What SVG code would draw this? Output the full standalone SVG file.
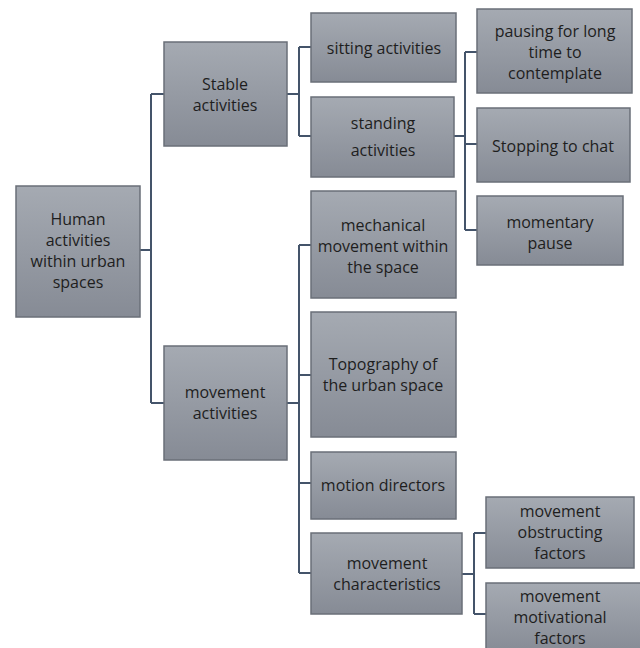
<svg xmlns="http://www.w3.org/2000/svg" width="640" height="648" viewBox="0 0 640 648">
<defs>
<linearGradient id="g" x1="0" y1="0" x2="0" y2="1">
<stop offset="0" stop-color="#a5aab2"/>
<stop offset="1" stop-color="#868b95"/>
</linearGradient>
<style>
.box{fill:url(#g);stroke:#6a6f78;stroke-width:1.5}
.t{font-family:"Open Sans",Lato,"Liberation Sans",sans-serif;font-size:16px;fill:#1e1e1e;text-anchor:middle}
.c{fill:none;stroke:#44546a;stroke-width:2}
</style>
</defs>
<rect width="640" height="648" fill="#ffffff"/>
<g id="connectors">
<path class="c" d="M140 250H151M151 94V403M151 94H164M151 403H164"/>
<path class="c" d="M287 94H299M299 47V136M299 47H311M299 136H311"/>
<path class="c" d="M454 136H465M465 52V230M465 52H477M465 144H477M465 230H477"/>
<path class="c" d="M287 403H299M299 245V573M299 245H311M299 375H311M299 483H311M299 573H311"/>
<path class="c" d="M462 574H474M474 533V614M474 533H486M474 614H486"/>
</g>
<g id="root">
<rect class="box" x="16" y="186" width="124" height="131"/>
<text class="t" x="78" y="225">Human</text>
<text class="t" x="78" y="246">activities</text>
<text class="t" x="78" y="267">within urban</text>
<text class="t" x="78" y="288">spaces</text>
</g>
<g id="stable">
<rect class="box" x="164" y="42" width="123" height="104"/>
<text class="t" x="225" y="90">Stable</text>
<text class="t" x="225" y="111">activities</text>
</g>
<g id="movement">
<rect class="box" x="164" y="346" width="123" height="114"/>
<text class="t" x="225" y="398">movement</text>
<text class="t" x="225" y="419">activities</text>
</g>
<g id="sitting">
<rect class="box" x="311" y="13" width="145" height="69"/>
<text class="t" x="384" y="54">sitting activities</text>
</g>
<g id="standing">
<rect class="box" x="311" y="97" width="143" height="80"/>
<text class="t" x="383" y="129">standing</text>
<text class="t" x="383" y="156">activities</text>
</g>
<g id="pausing">
<rect class="box" x="477" y="9" width="155" height="84"/>
<text class="t" x="555" y="37">pausing for long</text>
<text class="t" x="555" y="58">time to</text>
<text class="t" x="555" y="79">contemplate</text>
</g>
<g id="stopping">
<rect class="box" x="477" y="108" width="153" height="74"/>
<text class="t" x="553" y="152">Stopping to chat</text>
</g>
<g id="momentary">
<rect class="box" x="477" y="196" width="146" height="69"/>
<text class="t" x="550" y="228">momentary</text>
<text class="t" x="550" y="249">pause</text>
</g>
<g id="mechanical">
<rect class="box" x="311" y="191" width="145" height="107"/>
<text class="t" x="383" y="231">mechanical</text>
<text class="t" x="383" y="252">movement within</text>
<text class="t" x="383" y="273">the space</text>
</g>
<g id="topography">
<rect class="box" x="311" y="312" width="145" height="125"/>
<text class="t" x="383" y="370">Topography of</text>
<text class="t" x="383" y="391">the urban space</text>
</g>
<g id="motion">
<rect class="box" x="311" y="452" width="145" height="67"/>
<text class="t" x="383" y="491">motion directors</text>
</g>
<g id="characteristics">
<rect class="box" x="311" y="533" width="151" height="81"/>
<text class="t" x="387" y="569">movement</text>
<text class="t" x="387" y="590">characteristics</text>
</g>
<g id="obstructing">
<rect class="box" x="486" y="497" width="148" height="71"/>
<text class="t" x="560" y="517">movement</text>
<text class="t" x="560" y="538">obstructing</text>
<text class="t" x="560" y="559">factors</text>
</g>
<g id="motivational">
<rect class="box" x="486" y="583" width="156" height="70"/>
<text class="t" x="560" y="602">movement</text>
<text class="t" x="560" y="623">motivational</text>
<text class="t" x="560" y="644">factors</text>
</g>
</svg>
